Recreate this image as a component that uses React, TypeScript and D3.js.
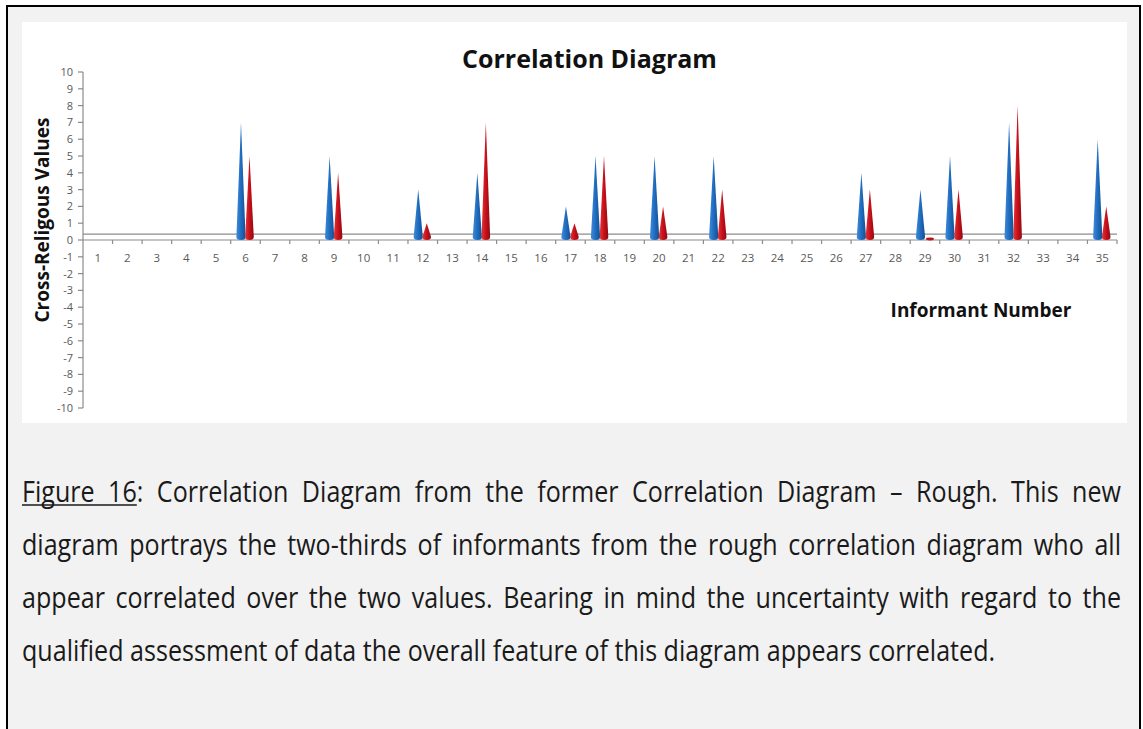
import React, { useMemo } from 'react';
import * as d3 from 'd3';

const informants = [1, 2, 3, 4, 5, 6, 7, 8, 9, 10, 11, 12, 13, 14, 15, 16, 17, 18, 19, 20, 21, 22, 23, 24, 25, 26, 27, 28, 29, 30, 31, 32, 33, 34, 35];
const peakInformants = [6, 9, 12, 14, 17, 18, 20, 22, 27, 29, 30, 32, 35];
const blueValues = [7, 5, 3, 4, 2, 5, 5, 5, 4, 3, 5, 7, 6];
const redValues = [5, 4, 1, 7, 1, 5, 2, 3, 3, 0, 3, 8, 2];
const yTicks = [-10, -9, -8, -7, -6, -5, -4, -3, -2, -1, 0, 1, 2, 3, 4, 5, 6, 7, 8, 9, 10];
const thresholdValue = 0.35;

const chartTitle = 'Correlation Diagram';
const yTitle = 'Cross-Religous Values';
const xTitle = 'Informant Number';
const captionLines = [
  'Figure 16: Correlation Diagram from the former Correlation Diagram – Rough. This new',
  'diagram portrays the two-thirds of informants from the rough correlation diagram who all',
  'appear correlated over the two values. Bearing in mind the uncertainty with regard to the',
  'qualified assessment of data the overall feature of this diagram appears correlated.',
];

const W = 1143;
const H = 729;
const CAP_SIZE = 29;
const CAP_FONT = `${CAP_SIZE}px "Open Sans"`;
const CAP_SX = 0.865;
const CAP_LEFT = 22;
const CAP_RIGHT = 1121;

function measure(text: string, font: string) {
  const c = document.createElement('canvas');
  const ctx = c.getContext('2d')!;
  ctx.font = font;
  return ctx.measureText(text).width;
}

function conePath(cx: number, hw: number, baseY: number, tipY: number) {
  return `M${cx - hw},${baseY} L${cx},${tipY} L${cx + hw},${baseY} A${hw},3 0 0 1 ${cx - hw},${baseY} Z`;
}

export default function App() {
  const x = d3.scaleBand<number>().domain(informants).range([83, 1117]).padding(0);
  const y = d3.scaleLinear().domain([-10, 10]).range([408, 72]);
  const bw = x.bandwidth();

  const caption = useMemo(() => {
    return captionLines.map((line, li) => {
      const words = line.split(' ');
      const widths = words.map((w) => measure(w, CAP_FONT) * CAP_SX);
      const total = widths.reduce((a, b) => a + b, 0);
      const justify = li < captionLines.length - 1;
      const gap = justify ? (CAP_RIGHT - CAP_LEFT - total) / (words.length - 1) : measure(' ', CAP_FONT) * CAP_SX;
      let cx = CAP_LEFT;
      return words.map((w, i) => {
        const item = { text: w, x: cx, width: widths[i] };
        cx += widths[i] + gap;
        return item;
      });
    });
  }, []);

  const y0 = y(0);
  const baseY = y0 - 3;

  return (
    <svg width={W} height={H} style={{ position: 'absolute', left: 0, top: 0 }} fontFamily='"Open Sans", sans-serif'>
      <defs>
        <linearGradient id="gBlue" x1="0" x2="1" y1="0" y2="0">
          <stop offset="0" stopColor="#3f8bd8" />
          <stop offset="0.5" stopColor="#1f6cc0" />
          <stop offset="1" stopColor="#14508f" />
        </linearGradient>
        <linearGradient id="gRed" x1="0" x2="1" y1="0" y2="0">
          <stop offset="0" stopColor="#e4363b" />
          <stop offset="0.5" stopColor="#c8101a" />
          <stop offset="1" stopColor="#900a10" />
        </linearGradient>
      </defs>
      <rect x={0} y={0} width={W} height={H} fill="#ffffff" />
      <rect x={7} y={6} width={1133} height={760} fill="#f2f2f2" stroke="#000" strokeWidth={2} />
      <rect x={22} y={22} width={1105} height={401} fill="#ffffff" />

      <text x={589.5} y={68} textAnchor="middle" fontSize={25} fontWeight="bold" fill="#111">{chartTitle}</text>

      {/* y axis */}
      <line x1={83} x2={83} y1={y(10)} y2={y(-10)} stroke="#8c8c8c" strokeWidth={1.2} />
      {yTicks.map((t) => (
        <g key={t}>
          <line x1={78} x2={83} y1={y(t)} y2={y(t)} stroke="#8c8c8c" strokeWidth={1.2} />
          <text x={73} y={y(t) + 4} textAnchor="end" fontSize={11} fill="#595959">{t}</text>
        </g>
      ))}

      {/* threshold line */}
      <line x1={83} x2={1117} y1={y(thresholdValue)} y2={y(thresholdValue)} stroke="#8c8c8c" strokeWidth={1.2} />
      {/* x axis */}
      <line x1={83} x2={1117} y1={y0} y2={y0} stroke="#8c8c8c" strokeWidth={1.2} />
      {informants.map((d) => (
        <g key={d}>
          <line x1={x(d)! + bw} x2={x(d)! + bw} y1={y0} y2={y0 + 4} stroke="#8c8c8c" strokeWidth={1.2} />
          <text x={x(d)! + bw / 2} y={y0 + 22} textAnchor="middle" fontSize={11.5} fill="#595959">{d}</text>
        </g>
      ))}

      {/* cones */}
      {peakInformants.map((d, i) => {
        const c = x(d)! + bw / 2;
        const bc = c - 4.5;
        const rc = c + 4;
        return (
          <g key={d}>
            {blueValues[i] > 0 ? (
              <path d={conePath(bc, 4.6, baseY, y(blueValues[i]))} fill="url(#gBlue)" />
            ) : (
              <ellipse cx={bc} cy={y0 - 1} rx={4} ry={1.5} fill="#1f6cc0" />
            )}
            {redValues[i] > 0 ? (
              <path d={conePath(rc, 4.3, baseY, y(redValues[i]))} fill="url(#gRed)" />
            ) : (
              <ellipse cx={rc + 1} cy={y0 - 1} rx={4} ry={1.4} fill="#b8141c" />
            )}
          </g>
        );
      })}

      <text x={981} y={317} textAnchor="middle" fontSize={19} fontWeight="bold" fill="#111">{xTitle}</text>
      <text transform={`translate(48.5,220) rotate(-90)`} textAnchor="middle" fontSize={19} fontWeight="bold" fill="#111">{yTitle}</text>

      {/* caption */}
      {caption.map((words, li) => {
        const by = 502 + li * 53;
        return (
          <g key={li}>
            {words.map((w, wi) => (
              <text key={wi} transform={`translate(${w.x},${by}) scale(${CAP_SX},1)`} fill="#1a1a1a" style={{ font: CAP_FONT }}>{w.text}</text>
            ))}
            {li === 0 && (
              <line x1={words[0].x} x2={words[1].x + measure('16', CAP_FONT) * CAP_SX} y1={by + 3} y2={by + 3} stroke="#1a1a1a" strokeWidth={1.5} />
            )}
          </g>
        );
      })}
    </svg>
  );
}
